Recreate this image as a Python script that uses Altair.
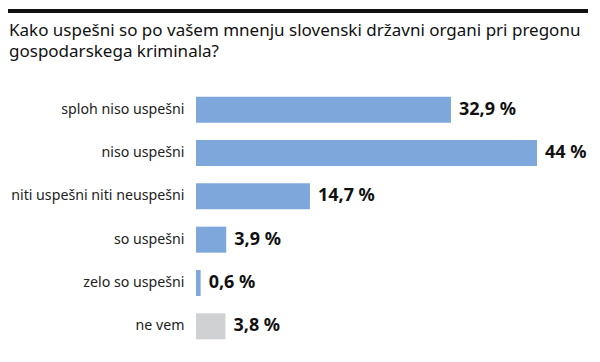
import altair as alt
import pandas as pd

categories = ["sploh niso uspešni", "niso uspešni", "niti uspešni niti neuspešni",
              "so uspešni", "zelo so uspešni", "ne vem"]
values = [32.9, 44, 14.7, 3.9, 0.6, 3.8]
value_labels = ["32,9 %", "44 %", "14,7 %", "3,9 %", "0,6 %", "3,8 %"]
groups = ["odgovor", "odgovor", "odgovor", "odgovor", "odgovor", "ne vem"]

df = pd.DataFrame({"cat": categories, "val": values, "lab": value_labels, "grp": groups})

FONT = "Noto Sans"

y_enc = alt.Y("cat:N", sort=categories,
              scale=alt.Scale(paddingInner=0.4, paddingOuter=0.2),
              axis=alt.Axis(title=None, ticks=False, domain=False, labelPadding=12,
                            labelFontSize=14.2, labelFont=FONT, labelColor="#222222",
                            labelLimit=300))
x_enc = alt.X("val:Q", scale=alt.Scale(domain=[0, 44], nice=False), axis=None)

bars = alt.Chart(df).mark_bar().encode(
    x=x_enc, y=y_enc,
    color=alt.Color("grp:N", scale=alt.Scale(domain=["odgovor", "ne vem"],
                                             range=["#7ea8dc", "#d0d1d3"]), legend=None),
)

text = alt.Chart(df).mark_text(align="left", baseline="middle", dx=8, fontSize=18,
                               fontWeight="bold", font=FONT, color="#111111").encode(
    x="val:Q", y=alt.Y("cat:N", sort=categories), text="lab:N")

topline = alt.Chart(df).mark_rule(color="#111111", strokeWidth=4).encode(
    x=alt.value(-188), x2=alt.value(392), y=alt.value(-77))

chart = alt.layer(bars, text, topline).properties(
    width=341, height=260,
    autosize=alt.AutoSizeParams(type="none"),
    padding={"left": 188, "top": 80, "right": 55, "bottom": 6},
    title=alt.TitleParams(
        ["Kako uspešni so po vašem mnenju slovenski državni organi pri pregonu",
         "gospodarskega kriminala?"],
        anchor="start", frame="group", dx=-187, dy=72, fontSize=17, fontWeight="normal",
        font=FONT, color="#111111", lineHeight=21, offset=20),
).configure_view(stroke=None)

chart.save("out.html", embed_options={"renderer": "svg", "actions": False})
